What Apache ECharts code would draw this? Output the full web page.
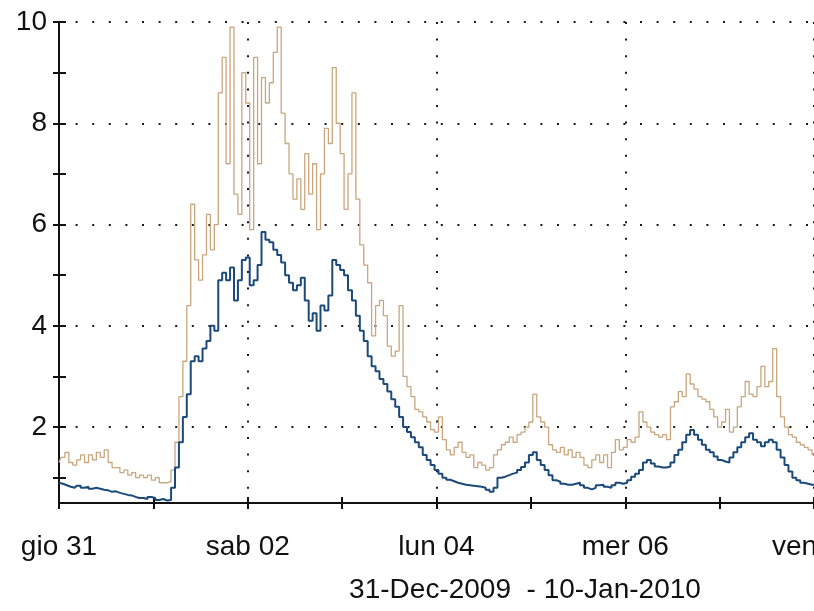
<!DOCTYPE html>
<html><head><meta charset="utf-8">
<script src="https://cdn.jsdelivr.net/npm/echarts@6/dist/echarts.min.js"></script>
<style>html,body{margin:0;padding:0;background:#fff}#c{width:814px;height:611px}</style>
</head><body><div id="c"></div>
<script>
// Hourly samples starting 31-Dec-2009 00:00
const stepHours = 1;
const dayLabels = ['gio 31','ven 01','sab 02','dom 03','lun 04','mar 05','mer 06','gio 07','ven 08'];
const yLabelValues = [2, 4, 6, 8, 10];
const yTickValues = [1, 2, 3, 4, 5, 6, 7, 8, 9, 10];
const rangeTitle = '31-Dec-2009  - 10-Jan-2010';

const tanValues = [
  1.3,1.4,1.5,1.3,1.25,1.35,1.45,1.3,1.45,1.35,1.5,1.4,
  1.55,1.3,1.2,1.2,1.1,1.15,1.05,1.1,1.0,1.05,1.0,1.05,
  0.95,1.0,0.9,0.9,0.92,1.15,1.7,2.6,3.3,4.4,6.4,5.3,
  4.9,5.4,6.2,5.5,6.0,8.6,9.3,7.2,9.9,6.6,6.2,9.0,
  8.4,5.9,9.3,7.2,8.9,8.4,8.8,9.4,9.9,8.2,7.6,7.0,
  6.5,6.9,6.3,7.4,6.6,7.2,5.9,7.0,7.9,7.6,9.1,8.0,
  7.4,6.3,7.0,8.6,6.5,5.6,5.2,4.85,3.8,4.4,4.5,4.2,
  3.6,3.4,3.5,4.4,3.0,2.8,2.6,2.35,2.3,2.2,2.1,1.95,
  1.9,2.2,1.75,1.55,1.45,1.6,1.7,1.5,1.4,1.45,1.2,1.3,
  1.25,1.15,1.2,1.45,1.55,1.65,1.7,1.8,1.7,1.85,1.9,2.0,
  2.1,2.65,2.2,2.1,2.0,1.65,1.55,1.5,1.6,1.45,1.55,1.4,
  1.5,1.4,1.25,1.2,1.35,1.45,1.3,1.45,1.2,1.5,1.75,1.55,
  1.6,1.75,1.7,1.8,2.3,2.1,2.0,1.9,1.85,1.8,1.85,1.75,
  2.4,2.5,2.7,2.6,3.05,2.85,2.75,2.6,2.55,2.5,2.35,2.2,
  2.0,2.1,2.35,1.9,2.0,2.4,2.6,2.9,2.65,2.6,2.8,3.2,
  2.8,2.9,3.55,2.6,2.2,2.0,1.85,1.8,1.7,1.65,1.6,1.55,
  1.45
];
const blueValues = [
  0.9,0.88,0.85,0.82,0.8,0.84,0.8,0.82,0.78,0.8,0.78,0.76,
  0.75,0.72,0.73,0.7,0.68,0.66,0.65,0.62,0.6,0.6,0.58,0.62,
  0.6,0.56,0.58,0.55,0.56,0.8,1.2,1.7,2.2,2.65,3.3,3.4,
  3.3,3.55,3.7,4.0,3.9,4.9,5.05,4.9,5.15,4.5,4.9,5.3,
  5.35,4.8,4.9,5.2,5.85,5.7,5.65,5.5,5.4,5.25,5.0,4.85,
  4.7,4.8,4.95,4.5,4.1,4.25,3.9,4.4,4.3,4.6,5.3,5.2,
  5.1,5.0,4.7,4.5,4.2,3.9,3.7,3.4,3.2,3.1,2.95,2.85,
  2.7,2.55,2.4,2.2,2.0,1.9,1.8,1.7,1.6,1.45,1.35,1.25,
  1.15,1.08,1.0,0.96,0.93,0.9,0.88,0.86,0.85,0.84,0.83,0.82,
  0.8,0.76,0.72,0.8,1.0,1.02,1.05,1.08,1.1,1.15,1.21,1.3,
  1.45,1.5,1.35,1.25,1.15,1.05,0.95,0.92,0.88,0.86,0.86,0.88,
  0.9,0.85,0.8,0.77,0.8,0.85,0.86,0.82,0.8,0.85,0.9,0.88,
  0.9,0.95,1.02,1.08,1.15,1.3,1.35,1.28,1.22,1.2,1.2,1.22,
  1.3,1.45,1.55,1.7,1.85,1.94,1.85,1.75,1.65,1.55,1.5,1.42,
  1.35,1.32,1.3,1.4,1.5,1.6,1.7,1.8,1.88,1.75,1.7,1.62,
  1.7,1.75,1.7,1.55,1.4,1.25,1.12,1.0,0.95,0.9,0.88,0.86,
  0.86
];

const toPairs = arr => arr.map((v, i) => [i * stepHours, v]);
const FONT = '"Liberation Sans", Arial, sans-serif';
const dotted = { color: '#1a1a1a', width: 2, type: [2, 14.6] };
const black = '#111';

const xBase = { type: 'value', min: 0, max: 192, position: 'bottom', offset: 0 };
const yBase = { type: 'value', min: 0.5, max: 10, position: 'left', offset: 0 };

const chart = echarts.init(document.getElementById('c'), null, { renderer: 'canvas' });
chart.setOption({
  animation: false,
  backgroundColor: '#fff',
  grid: { left: 59, right: 0, top: 22, bottom: 108, containLabel: false, outerBoundsMode: 'none' },
  xAxis: [
    Object.assign({}, xBase, {
      interval: 48,
      axisLine: { show: true, lineStyle: { color: black, width: 2 } },
      axisTick: { show: false },
      axisLabel: {
        show: true, margin: 30, color: black, fontFamily: FONT, fontSize: 28,
        showMinLabel: true, showMaxLabel: true, hideOverlap: false,
        formatter: v => dayLabels[Math.round(v / 24)] || ''
      },
      splitLine: { show: true, lineStyle: dotted }
    }),
    Object.assign({}, xBase, {
      interval: 24,
      axisLine: { show: false },
      axisTick: { show: true, inside: false, length: 6, lineStyle: { color: black, width: 2 } },
      axisLabel: { show: false }, splitLine: { show: false }
    }),
    Object.assign({}, xBase, {
      interval: 24,
      axisLine: { show: false },
      axisTick: { show: true, inside: true, length: 6, lineStyle: { color: black, width: 2 } },
      axisLabel: { show: false }, splitLine: { show: false }
    })
  ],
  yAxis: [
    Object.assign({}, yBase, {
      axisLine: { show: true, lineStyle: { color: black, width: 2 } },
      axisTick: { show: false, customValues: yLabelValues },
      axisLabel: { show: true, customValues: yLabelValues, margin: 12, color: black, fontFamily: FONT, fontSize: 28 },
      splitLine: { show: true, lineStyle: dotted }
    }),
    Object.assign({}, yBase, {
      axisLine: { show: false },
      axisTick: { show: true, inside: false, length: 6, customValues: yTickValues, lineStyle: { color: black, width: 2 } },
      axisLabel: { show: false }, splitLine: { show: false }
    }),
    Object.assign({}, yBase, {
      axisLine: { show: false },
      axisTick: { show: true, inside: true, length: 7, customValues: yTickValues, lineStyle: { color: black, width: 2 } },
      axisLabel: { show: false }, splitLine: { show: false }
    })
  ],
  graphic: [{
    type: 'text', x: 525, y: 590,
    style: { text: rangeTitle, fill: black, font: '28px ' + FONT, textAlign: 'center', textVerticalAlign: 'middle' }
  }],
  series: [
    {
      type: 'line', xAxisIndex: 0, yAxisIndex: 0, data: toPairs(tanValues), step: 'middle',
      showSymbol: false, symbol: 'none', lineStyle: { color: '#c9a67e', width: 1.3 }, z: 3
    },
    {
      type: 'line', xAxisIndex: 0, yAxisIndex: 0, data: toPairs(blueValues), step: 'middle',
      showSymbol: false, symbol: 'none', lineStyle: { color: '#1b4a7a', width: 2 }, z: 4
    }
  ]
});
</script>
</body></html>
